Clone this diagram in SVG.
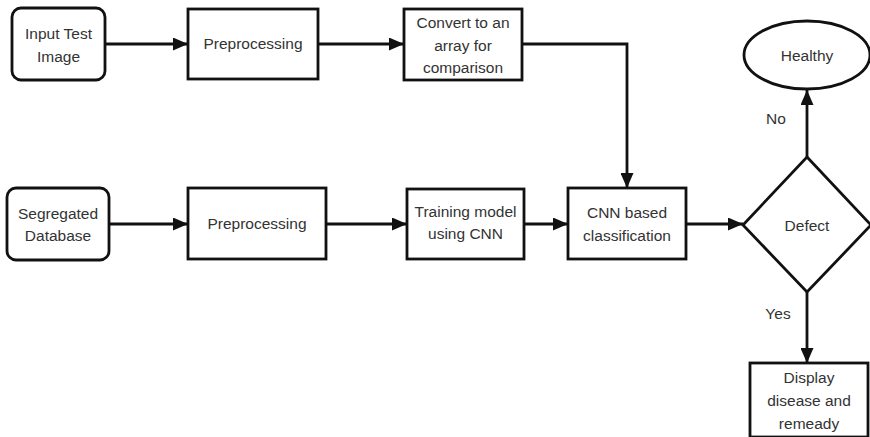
<svg xmlns="http://www.w3.org/2000/svg" width="870" height="437" viewBox="0 0 870 437">
<defs>
<marker id="ah" markerUnits="userSpaceOnUse" markerWidth="15" markerHeight="13" refX="15" refY="6.5" orient="auto">
<path d="M0,0 L15,6.5 L0,13 z" fill="#111"/>
</marker>
<style>
.box{fill:#fff;stroke:#111;stroke-width:2.8}
.ln{fill:none;stroke:#111;stroke-width:2.8;marker-end:url(#ah)}
text{font-family:"Liberation Sans",Arial,sans-serif;font-size:15.5px;fill:#333;text-anchor:middle}
</style>
</defs>
<rect width="870" height="437" fill="#fff"/>
<g id="connectors">
<line class="ln" x1="105" y1="44" x2="188" y2="44"/>
<line class="ln" x1="318" y1="44" x2="404" y2="44"/>
<polyline class="ln" points="522,44 627,44 627,188"/>
<line class="ln" x1="109" y1="224" x2="188" y2="224"/>
<line class="ln" x1="326" y1="224" x2="407" y2="224"/>
<line class="ln" x1="524" y1="224" x2="568" y2="224"/>
<line class="ln" x1="686" y1="224" x2="743" y2="224"/>
<line class="ln" x1="807" y1="157" x2="807" y2="90"/>
<line class="ln" x1="807" y1="292" x2="807" y2="363"/>
<text x="776" y="124">No</text>
<text x="778" y="319">Yes</text>
</g>
<g id="input">
<rect class="box" x="12" y="8" width="93" height="72" rx="9"/>
<text x="58.5" y="39">Input Test</text>
<text x="58.5" y="62">Image</text>
</g>
<g id="pre1">
<rect class="box" x="188" y="9" width="130" height="70"/>
<text x="253" y="49">Preprocessing</text>
</g>
<g id="convert">
<rect class="box" x="404" y="9" width="118" height="71"/>
<text x="463" y="28">Convert to an</text>
<text x="463" y="51">array for</text>
<text x="463" y="73">comparison</text>
</g>
<g id="segregated">
<rect class="box" x="7" y="188" width="102" height="72" rx="9"/>
<text x="58" y="219">Segregated</text>
<text x="58" y="241">Database</text>
</g>
<g id="pre2">
<rect class="box" x="188" y="188" width="138" height="71"/>
<text x="257" y="229">Preprocessing</text>
</g>
<g id="training">
<rect class="box" x="407" y="189" width="117" height="70"/>
<text x="465.5" y="217">Training model</text>
<text x="465.5" y="239">using CNN</text>
</g>
<g id="cnn">
<rect class="box" x="568" y="188" width="118" height="71"/>
<text x="627" y="218">CNN based</text>
<text x="627" y="241">classification</text>
</g>
<g id="defect">
<polygon class="box" points="807,157 871,225 807,292 743,225"/>
<text x="807" y="231">Defect</text>
</g>
<g id="healthy">
<ellipse class="box" cx="807" cy="55" rx="63" ry="34"/>
<text x="807" y="61">Healthy</text>
</g>
<g id="display">
<rect class="box" x="750" y="363" width="118" height="74"/>
<text x="809" y="383">Display</text>
<text x="809" y="406">disease and</text>
<text x="809" y="429">remeady</text>
</g>
</svg>
